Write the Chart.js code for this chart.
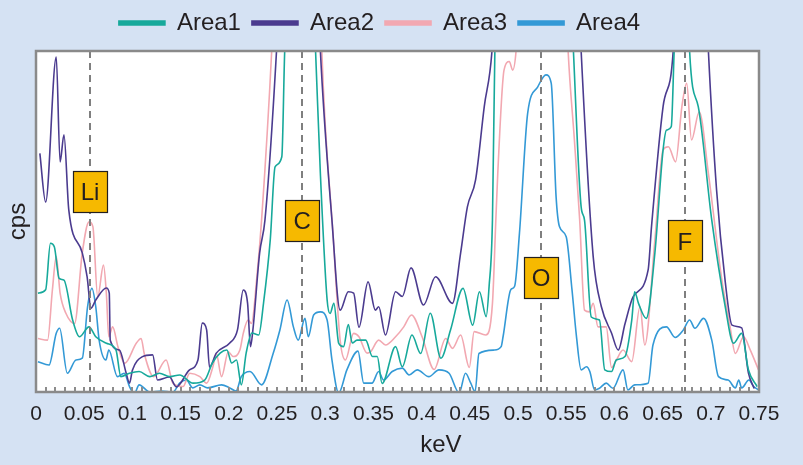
<!DOCTYPE html>
<html>
<head>
<meta charset="utf-8">
<title>EDS spectrum</title>
<script src="https://cdn.jsdelivr.net/npm/chart.js@4.4.1/dist/chart.umd.min.js"></script>
<style>
  html, body { margin: 0; padding: 0; background: #d5e2f3; }
</style>
</head>
<body>
<canvas id="spectrum" width="803" height="465"></canvas>
<script>
// Spectrum readings (keV, relative cps) - values above 100 run off the top of the plot
const area1Kev = [0.002, 0.010, 0.015, 0.019, 0.024, 0.029, 0.038, 0.045, 0.055, 0.062, 0.073, 0.083, 0.088, 0.097, 0.107, 0.118, 0.128, 0.139, 0.149, 0.163, 0.175, 0.183, 0.191, 0.198, 0.203, 0.208, 0.213, 0.218, 0.224, 0.231, 0.236, 0.243, 0.248, 0.255, 0.258, 0.266, 0.284, 0.290, 0.295, 0.302, 0.305, 0.309, 0.314, 0.319, 0.324, 0.328, 0.333, 0.342, 0.349, 0.354, 0.359, 0.373, 0.380, 0.390, 0.399, 0.409, 0.420, 0.430, 0.443, 0.453, 0.460, 0.467, 0.470, 0.4735, 0.476, 0.485, 0.550, 0.5575, 0.5655, 0.569, 0.576, 0.5845, 0.590, 0.597, 0.602, 0.611, 0.618, 0.621, 0.625, 0.633, 0.642, 0.6505, 0.654, 0.659, 0.662, 0.668, 0.675, 0.678, 0.687, 0.701, 0.715, 0.7235, 0.732, 0.739, 0.748];
const area1Cps = [29.0, 30.0, 43.6, 42.6, 33.3, 32.8, 21.1, 16.2, 19.1, 16.2, 14.3, 12.3, 4.5, 5.5, 6.0, 4.5, 5.5, 4.5, 5.0, 2.6, 3.5, 8.5, 11.4, 12.3, 8.5, 9.4, 2.1, 11.4, 17.3, 16.7, 26.0, 44.6, 66.0, 69.0, 100, 140, 140, 100, 64.0, 27.0, 23.0, 26.0, 14.3, 13.3, 19.8, 14.4, 15.2, 15.2, 10.4, 10.4, 2.5, 13.3, 7.4, 16.7, 11.3, 23.1, 9.9, 18.2, 30.4, 19.6, 29.4, 22.1, 30.9, 50.4, 100, 150, 150, 100, 54.3, 50.4, 22.0, 21.1, 6.5, 6.0, 9.4, 10.4, 21.1, 29.4, 26.0, 21.6, 40.8, 71.0, 76.8, 77.8, 100, 140, 140, 100, 83.7, 50.4, 25.0, 14.3, 17.2, 6.5, 1.6];

const area2Kev = [0.004, 0.010, 0.021, 0.025, 0.029, 0.034, 0.048, 0.053, 0.057, 0.062, 0.073, 0.076, 0.077, 0.0865, 0.0935, 0.097, 0.100, 0.110, 0.121, 0.126, 0.1385, 0.1455, 0.159, 0.168, 0.1725, 0.177, 0.180, 0.187, 0.201, 0.209, 0.215, 0.2195, 0.2225, 0.225, 0.232, 0.2375, 0.2495, 0.258, 0.288, 0.295, 0.307, 0.3155, 0.324, 0.3295, 0.335, 0.3445, 0.352, 0.3555, 0.3625, 0.373, 0.380, 0.389, 0.402, 0.4145, 0.432, 0.4405, 0.4475, 0.456, 0.465, 0.473, 0.482, 0.558, 0.5655, 0.578, 0.5865, 0.597, 0.604, 0.611, 0.6195, 0.635, 0.6385, 0.6505, 0.661, 0.668, 0.690, 0.6975, 0.706, 0.715, 0.722, 0.732, 0.739, 0.745];
const area2Cps = [70.0, 55.7, 98.2, 67.5, 75.4, 53.4, 40.8, 33.8, 24.6, 27.0, 30.5, 29.0, 15.2, 12.3, 5.6, 2.6, 6.4, 10.3, 10.9, 3.5, 4.4, 1.5, 6.4, 9.4, 20.2, 18.2, 7.3, 11.4, 14.4, 18.2, 29.9, 26.0, 13.3, 18.2, 40.8, 50.4, 100, 150, 150, 100, 50.4, 24.0, 29.4, 29.0, 19.0, 32.3, 24.0, 25.0, 16.7, 29.4, 28.0, 36.4, 25.5, 33.8, 26.0, 40.8, 54.3, 62.2, 83.7, 100, 150, 150, 100, 39.7, 25.0, 17.3, 12.3, 20.0, 28.0, 35.8, 48.5, 83.7, 100, 150, 150, 100, 59.2, 32.3, 19.6, 18.8, 5.6, 1.0];

const area3Kev = [0.002, 0.012, 0.017, 0.021, 0.025, 0.031, 0.040, 0.048, 0.055, 0.059, 0.064, 0.070, 0.073, 0.0755, 0.0795, 0.085, 0.092, 0.104, 0.109, 0.1125, 0.122, 0.135, 0.142, 0.1525, 0.1595, 0.170, 0.177, 0.1835, 0.187, 0.1925, 0.1995, 0.2045, 0.2115, 0.215, 0.220, 0.2235, 0.229, 0.234, 0.2445, 0.252, 0.292, 0.2965, 0.3085, 0.3155, 0.321, 0.3295, 0.335, 0.3435, 0.347, 0.3555, 0.3625, 0.373, 0.3815, 0.3895, 0.4005, 0.413, 0.425, 0.432, 0.4405, 0.4495, 0.4545, 0.4665, 0.4735, 0.477, 0.479, 0.4855, 0.491, 0.4945, 0.498, 0.508, 0.545, 0.552, 0.5585, 0.564, 0.569, 0.574, 0.578, 0.583, 0.5915, 0.597, 0.602, 0.609, 0.618, 0.6265, 0.6315, 0.642, 0.6505, 0.656, 0.6635, 0.670, 0.675, 0.680, 0.688, 0.6975, 0.7115, 0.720, 0.7255, 0.734, 0.741, 0.7495];
const area3Cps = [15.7, 15.2, 29.9, 39.7, 29.0, 23.1, 20.1, 40.8, 49.9, 48.5, 27.9, 37.2, 28.9, 16.2, 19.1, 13.3, 8.4, 14.3, 15.7, 11.0, 4.5, 9.4, 2.6, 1.6, 5.5, 4.5, 2.6, 7.4, 11.3, 4.5, 11.8, 10.4, 12.3, 17.2, 21.1, 20.1, 33.3, 50.4, 100, 150, 150, 100, 44.6, 15.2, 9.4, 17.2, 16.2, 11.4, 11.8, 15.2, 13.8, 16.2, 19.1, 22.6, 16.2, 6.6, 15.7, 12.8, 16.7, 7.2, 17.7, 16.7, 26.0, 50.4, 64.0, 94.4, 96.9, 94.4, 100, 150, 150, 100, 73.9, 50.4, 24.0, 23.5, 26.0, 19.1, 19.1, 7.2, 9.4, 12.3, 8.9, 25.0, 13.8, 44.6, 71.0, 71.9, 67.5, 83.7, 90.5, 73.9, 82.2, 64.1, 32.8, 19.1, 11.3, 16.2, 12.3, 6.5];

const area4Kev = [0.002, 0.0135, 0.021, 0.0245, 0.0325, 0.0415, 0.048, 0.0535, 0.058, 0.062, 0.0655, 0.0725, 0.0755, 0.0845, 0.0915, 0.097, 0.102, 0.107, 0.118, 0.130, 0.142, 0.149, 0.156, 0.1625, 0.170, 0.178, 0.1925, 0.201, 0.2075, 0.213, 0.222, 0.234, 0.246, 0.253, 0.2605, 0.267, 0.272, 0.279, 0.2825, 0.288, 0.295, 0.302, 0.307, 0.314, 0.3225, 0.334, 0.340, 0.3485, 0.3555, 0.3605, 0.3695, 0.380, 0.387, 0.3955, 0.4075, 0.418, 0.4285, 0.439, 0.4455, 0.451, 0.4555, 0.4595, 0.4755, 0.4825, 0.4845, 0.4925, 0.4965, 0.5015, 0.510, 0.5205, 0.529, 0.5345, 0.5395, 0.543, 0.550, 0.556, 0.5605, 0.5655, 0.571, 0.5745, 0.5795, 0.5845, 0.5915, 0.5985, 0.609, 0.614, 0.621, 0.635, 0.640, 0.654, 0.663, 0.6715, 0.678, 0.6835, 0.6925, 0.701, 0.708, 0.718, 0.7255, 0.729, 0.732, 0.7395, 0.7445, 0.7495];
const area4Cps = [8.9, 7.9, 17.2, 18.7, 5.5, 9.4, 9.9, 25.0, 30.4, 25.0, 15.2, 9.4, 12.3, 4.5, 5.5, 1.6, -0.5, 2.1, 0.0, 0.3, 0.0, 2.6, 3.5, 1.2, 2.1, 1.2, 2.1, 1.2, 0.3, 4.5, 6.0, 2.1, 11.3, 18.2, 27.0, 19.1, 15.2, 21.6, 16.2, 22.6, 23.5, 21.1, 9.4, -0.3, 6.5, 12.0, 2.6, 2.6, 6.0, 3.5, 6.0, 7.0, 5.0, 6.5, 4.5, 6.5, 5.5, -0.3, 5.5, 2.6, 0.1, 11.3, 12.3, 13.3, 16.2, 30.0, 31.0, 46.5, 81.7, 89.5, 93.0, 90.5, 57.3, 48.5, 45.5, 30.0, 16.7, 6.5, 7.4, 6.0, 0.6, 1.1, 2.6, 1.1, 6.5, 0.6, 2.1, 2.6, 13.8, 19.1, 16.0, 18.2, 21.1, 18.7, 21.6, 15.2, 4.5, 3.5, 1.2, 3.5, 1.2, 3.5, 1.6, 0.6];

// element lines and where their tags sit
const elementNames = ["Li", "C", "O", "F"];
const elementKev = [0.056, 0.276, 0.524, 0.673];
const elementTagCps = [58.7, 50.4, 33.6, 44.3];

const seriesNames = ["Area1", "Area2", "Area3", "Area4"];
const seriesColors = ["#17a99b", "#4b3b8f", "#f2a8b1", "#3399d6"];
const kevStep = 0.05;
const minorStep = 0.01;
const kevTitleAt = 0.42;

const ink = "#231f20";
Chart.defaults.font.family = "'Liberation Sans', Arial, sans-serif";
Chart.defaults.color = ink;

const toPoints = (kev, cps) => kev.map((k, i) => ({ x: k, y: cps[i] }));
const allKev = [area1Kev, area2Kev, area3Kev, area4Kev];
const allCps = [area1Cps, area2Cps, area3Cps, area4Cps];

// background, element markers, inner ticks and frame
const decorations = {
  id: "decorations",
  beforeInit(chart) {
    const legend = chart.legend;
    if (legend) {
      const fit = legend.fit;
      legend.fit = function () {
        fit.call(this);
        this.height = 51;
      };
    }
  },
  beforeDraw(chart) {
    const { ctx, chartArea: a } = chart;
    ctx.save();
    ctx.fillStyle = "#d5e2f3";
    ctx.fillRect(0, 0, chart.width, chart.height);
    ctx.fillStyle = "#ffffff";
    ctx.fillRect(a.left, a.top, a.right - a.left, a.bottom - a.top);
    ctx.restore();
  },
  afterDatasetsDraw(chart) {
    const { ctx, chartArea: a, scales } = chart;
    const xs = scales.x, ys = scales.y;
    ctx.save();

    // small ticks inside the bottom edge
    ctx.strokeStyle = "#8c8c8c";
    ctx.lineWidth = 2;
    const n = Math.round((xs.max - xs.min) / minorStep);
    for (let i = 1; i < n; i++) {
      const px = Math.round(xs.getPixelForValue(xs.min + i * minorStep));
      ctx.beginPath();
      ctx.moveTo(px, a.bottom);
      ctx.lineTo(px, a.bottom - 5);
      ctx.stroke();
    }

    // dashed element lines
    ctx.strokeStyle = "#7f7f7f";
    ctx.setLineDash([7, 5]);
    elementKev.forEach((k) => {
      const px = Math.round(xs.getPixelForValue(k));
      ctx.beginPath();
      ctx.moveTo(px, a.top);
      ctx.lineTo(px, a.bottom);
      ctx.stroke();
    });
    ctx.setLineDash([]);

    // element tags
    ctx.font = "24px 'Liberation Sans', Arial, sans-serif";
    ctx.textAlign = "center";
    ctx.textBaseline = "middle";
    elementNames.forEach((name, i) => {
      const cx = xs.getPixelForValue(elementKev[i]);
      const cy = ys.getPixelForValue(elementTagCps[i]);
      const w = 34, h = 41;
      ctx.fillStyle = "#f6b900";
      ctx.fillRect(Math.round(cx - w / 2) + 0.5, Math.round(cy - h / 2) + 0.5, w, h);
      ctx.strokeStyle = ink;
      ctx.lineWidth = 1.2;
      ctx.strokeRect(Math.round(cx - w / 2) + 0.5, Math.round(cy - h / 2) + 0.5, w, h);
      ctx.fillStyle = ink;
      ctx.fillText(name, cx, cy + 2);
    });

    // plot frame
    ctx.strokeStyle = "#8a8a8a";
    ctx.lineWidth = 2.5;
    ctx.strokeRect(a.left, a.top, a.right - a.left, a.bottom - a.top);
    ctx.restore();
  },
  afterDraw(chart) {
    const { ctx, chartArea: a, scales } = chart;
    ctx.save();
    ctx.font = "24px 'Liberation Sans', Arial, sans-serif";
    ctx.fillStyle = ink;
    ctx.textAlign = "center";
    ctx.textBaseline = "alphabetic";
    ctx.fillText("keV", scales.x.getPixelForValue(kevTitleAt), a.bottom + 60);
    ctx.restore();
  },
};

new Chart(document.getElementById("spectrum"), {
  type: "line",
  data: {
    datasets: seriesNames.map((name, i) => ({
      label: name,
      data: toPoints(allKev[i], allCps[i]),
      borderColor: seriesColors[i],
      backgroundColor: seriesColors[i],
      borderWidth: 1.6,
      pointRadius: 0,
      cubicInterpolationMode: "monotone",
      fill: false,
    })),
  },
  options: {
    responsive: false,
    animation: false,
    devicePixelRatio: 1,
    layout: { padding: { left: 0, right: 44, top: 0, bottom: 0 } },
    plugins: {
      legend: {
        position: "top",
        labels: {
          boxWidth: 46,
          boxHeight: 4,
          padding: 11,
          color: ink,
          font: { size: 24 },
        },
      },
      tooltip: { enabled: false },
    },
    scales: {
      x: {
        type: "linear",
        min: 0,
        max: 0.75,
        afterFit(scale) { scale.height = 73; },
        grid: { display: false },
        border: { display: false },
        ticks: {
          stepSize: kevStep,
          padding: 2,
          autoSkip: false,
          maxRotation: 0,
          color: ink,
          font: { size: 21 },
          callback: (v) => String(Number(v.toFixed(2))),
        },
      },
      y: {
        min: 0,
        max: 100,
        afterFit(scale) { scale.width = 36; },
        grid: { display: false },
        border: { display: false },
        ticks: { display: false },
        title: {
          display: true,
          text: "cps",
          color: ink,
          font: { size: 24 },
          padding: { top: 4, bottom: 0 },
        },
      },
    },
  },
  plugins: [decorations],
});
</script>
</body>
</html>
